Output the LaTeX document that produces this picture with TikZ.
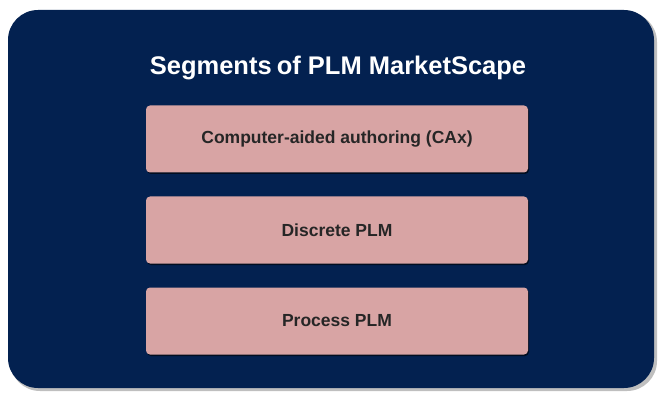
\documentclass[tikz,border=0pt]{standalone}
\usepackage{fontspec}
\setmainfont{Liberation Sans}
\usetikzlibrary{positioning,shadows}
\definecolor{navy}{RGB}{3,33,80}
\definecolor{segpink}{RGB}{216,164,164}

\begin{document}
\begin{tikzpicture}[x=1pt,y=-1pt,
	segbox/.style={fill=segpink,rounded corners=4pt,minimum width=382pt,minimum height=67pt,
		font=\bfseries\fontsize{17.5}{20}\selectfont,text=black!85,
		drop shadow={shadow xshift=1pt,shadow yshift=-1.5pt,opacity=.6,fill=black}},
	title/.style={text=white,font=\bfseries\fontsize{25.5}{30}\selectfont}]
	\useasboundingbox (0,0) rectangle (659,393);
	\fill[black!25,rounded corners=30pt] (10,12) rectangle (657,391);
	\fill[navy,rounded corners=30pt] (8,10) rectangle (654,388);
	\node[title] (head) at (338,68) {Segments\hspace{-2pt} of PLM MarketScape};
	\foreach \n/\y/\t in {cax/139/Computer-aided authoring (CAx),dplm/230/Discrete PLM,pplm/321/Process PLM}
		\node[segbox] (\n) at (337,\y) {\t};
\end{tikzpicture}
\end{document}
